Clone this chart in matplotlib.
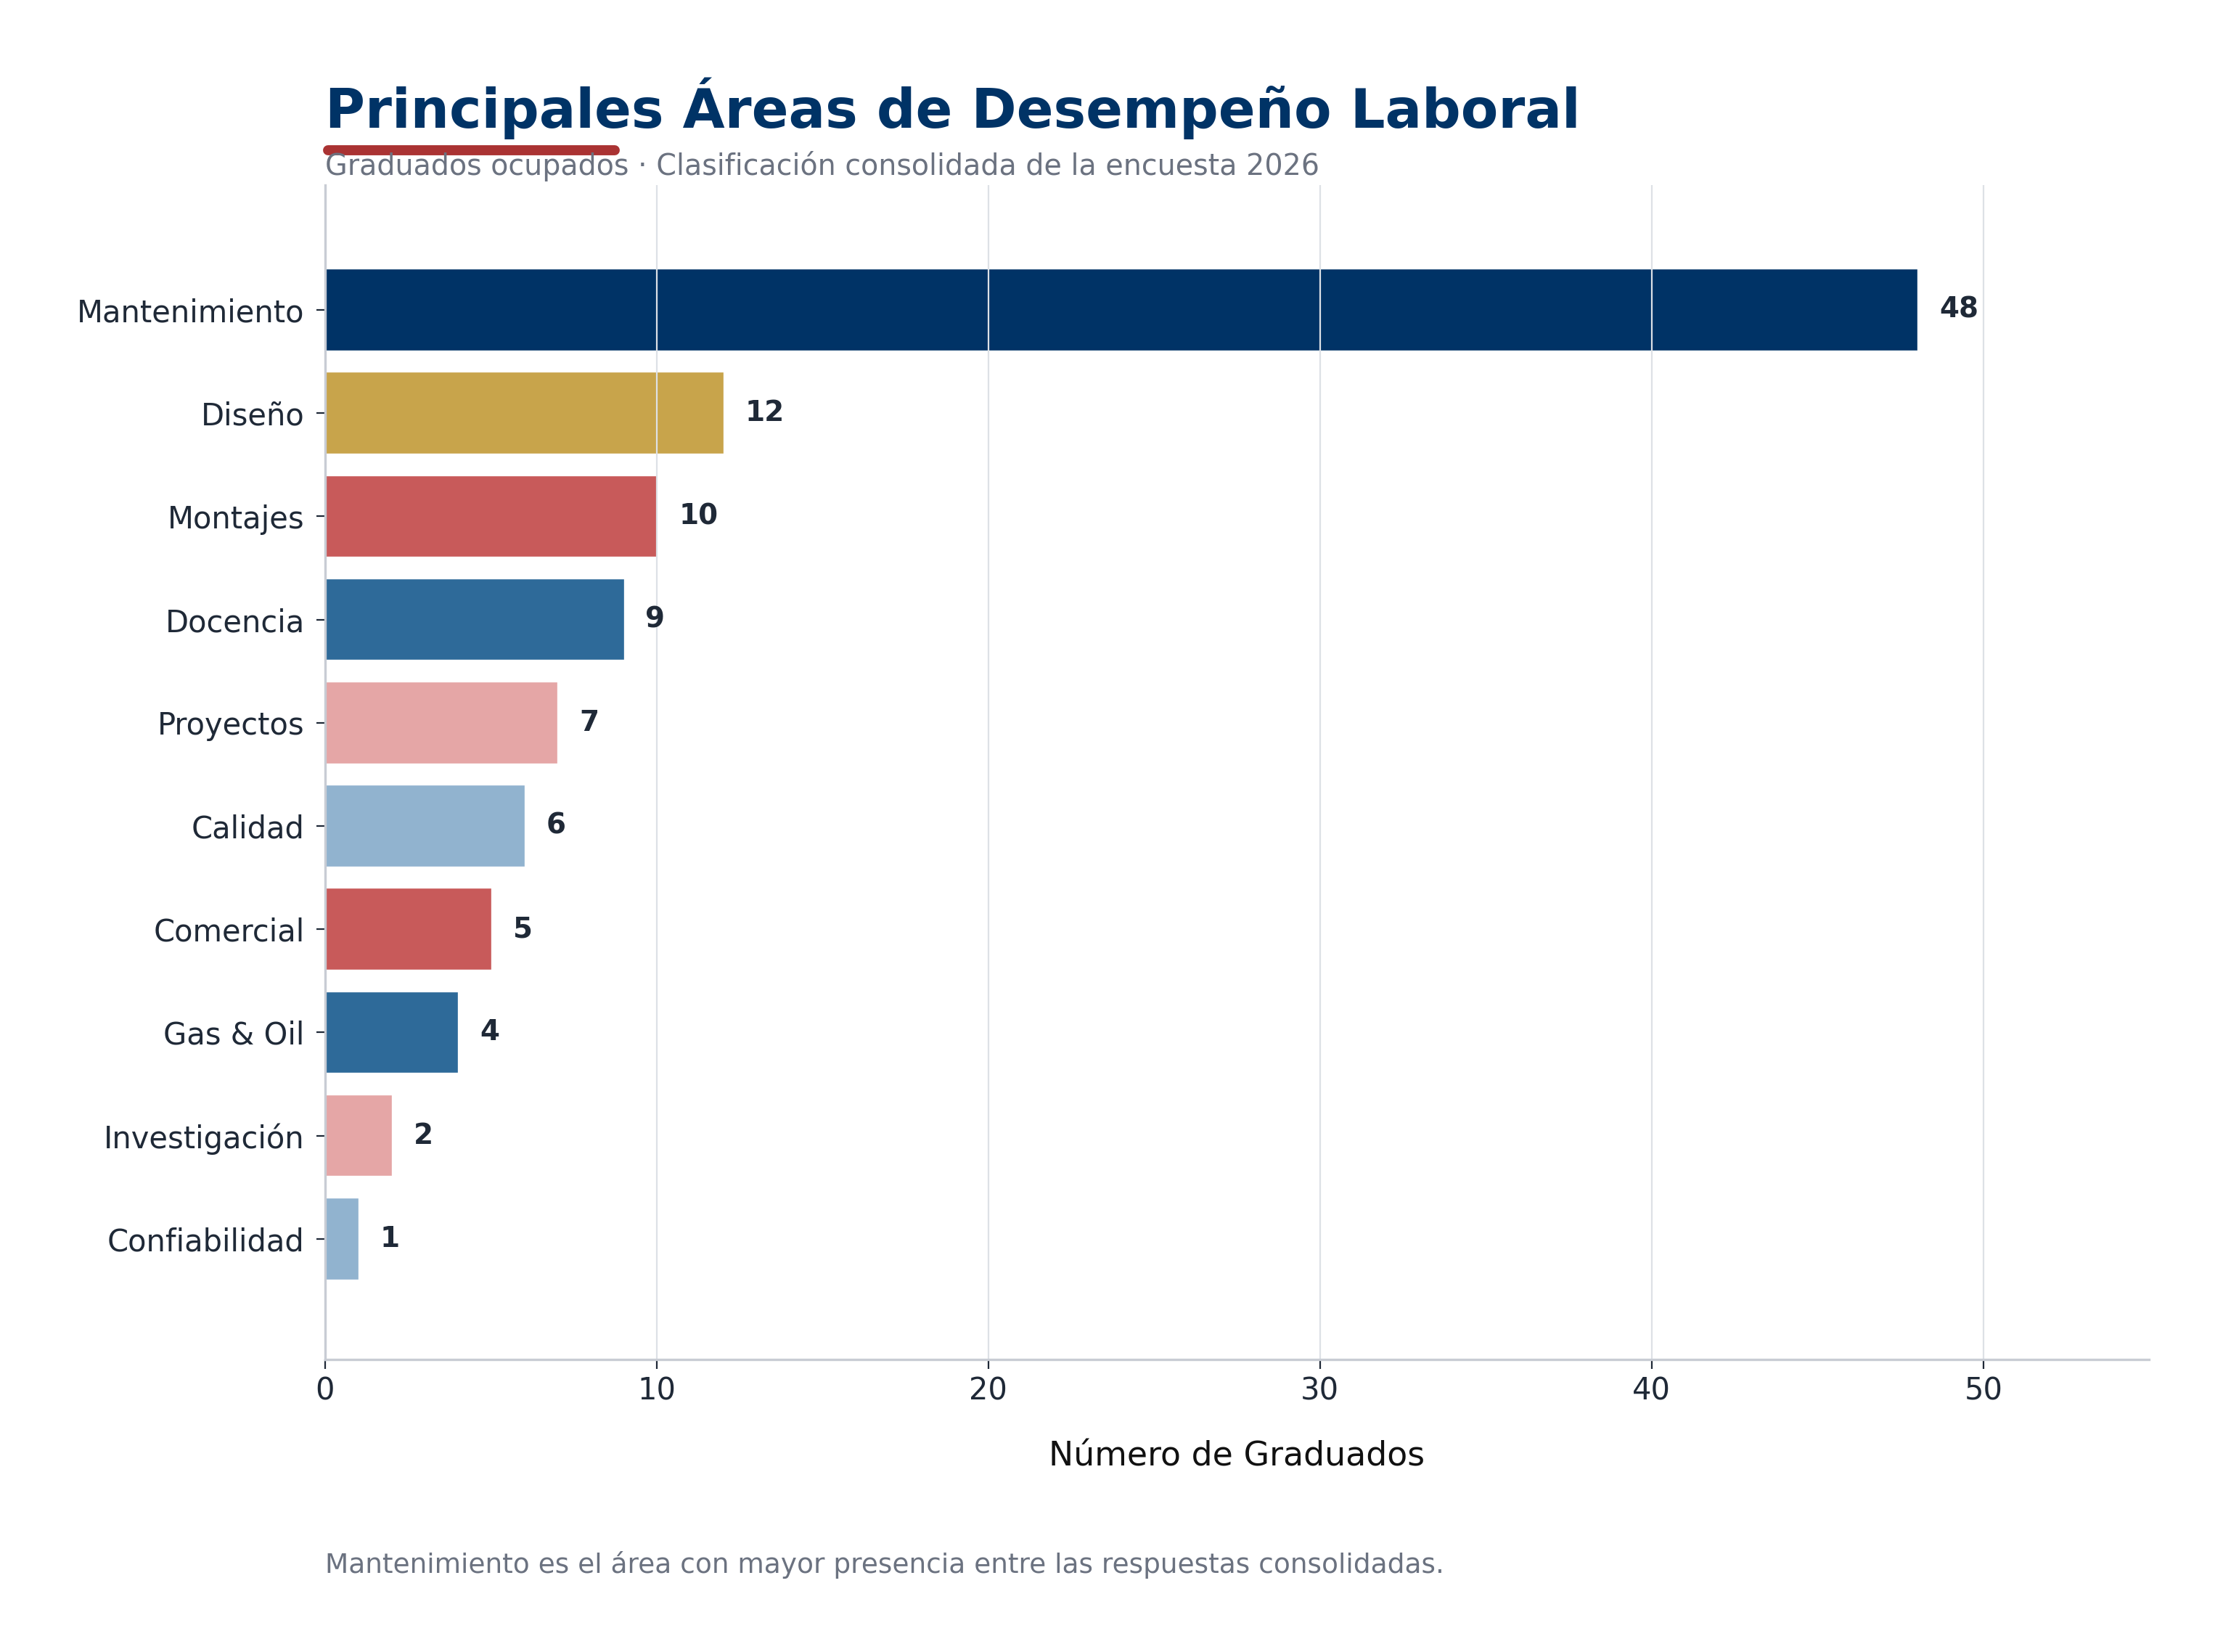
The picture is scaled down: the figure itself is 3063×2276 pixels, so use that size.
import matplotlib
matplotlib.use("Agg")
import matplotlib.pyplot as plt
from matplotlib.lines import Line2D

# data
areas = ['Mantenimiento', 'Diseño', 'Montajes', 'Docencia', 'Proyectos',
         'Calidad', 'Comercial', 'Gas & Oil', 'Investigación', 'Confiabilidad']
graduados = [48, 12, 10, 9, 7, 6, 5, 4, 2, 1]
colores = ['#003366', '#C8A44B', '#C85A5A', '#2E6A99', '#E5A6A6',
           '#91B3CF', '#C85A5A', '#2E6A99', '#E5A6A6', '#91B3CF']

titulo = 'Principales Áreas de Desempeño Laboral'
subtitulo = 'Graduados ocupados · Clasificación consolidada de la encuesta 2026'
nota = 'Mantenimiento es el área con mayor presencia entre las respuestas consolidadas.'

dark = '#1F2937'
gray = '#6B7280'

fig = plt.figure(figsize=(15.315, 11.38), dpi=200)
ax = fig.add_axes([0.1461, 0.177, 0.8207, 0.711])

ypos = list(range(len(areas)))
ax.barh(ypos, graduados, height=0.77, color=colores, edgecolor=colores, linewidth=0.6)

for y, v in zip(ypos, graduados):
    ax.annotate(str(v), xy=(v, y), xytext=(11, 0), textcoords='offset points',
                va='center', ha='left', fontsize=14, fontweight='bold', color=dark)

ax.set_yticks(ypos)
ax.set_yticklabels(areas)
ax.set_ylim(10.17, -1.21)
ax.set_xlim(0, 55)
ax.set_xticks([0, 10, 20, 30, 40, 50])

ax.grid(axis='x', color='#DDE1E6', linewidth=0.8)
ax.grid(axis='y', visible=False)

for s in ['top', 'right']:
    ax.spines[s].set_visible(False)
for s in ['left', 'bottom']:
    ax.spines[s].set_color('#C8CCD4')
    ax.spines[s].set_linewidth(1.2)

ax.tick_params(axis='both', labelsize=15, colors=dark, length=4.5, width=0.8)
ax.tick_params(axis='y', pad=5.5)
ax.set_xlabel('Número de Graduados', fontsize=16.5, color='#111111', labelpad=17)

# title block
fig.text(0.1461, 0.9227, titulo, fontsize=27, fontweight='bold', color='#003366',
         ha='left', va='baseline')
fig.add_artist(Line2D([0.1477, 0.2766], [0.909, 0.909], transform=fig.transFigure,
                      color='#AA3333', linewidth=5, solid_capstyle='round'))
fig.text(0.1461, 0.894, subtitulo, fontsize=14.25, color=gray, ha='left', va='baseline')

fig.text(0.1461, 0.048, nota, fontsize=13.5, color=gray, ha='left', va='baseline')

fig.savefig('out.png', dpi=200, facecolor='white')
